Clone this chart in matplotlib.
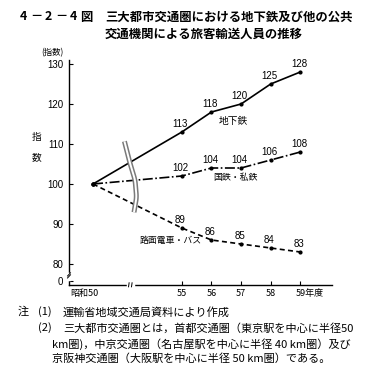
import matplotlib
matplotlib.use("Agg")
import matplotlib.pyplot as plt
import matplotlib.transforms as mtransforms
import numpy as np

plt.rcParams['font.family'] = ['Noto Sans CJK JP', 'DejaVu Sans']

years = ['昭和50', '55', '56', '57', '58', '59年度']
xpos = [0, 3, 4, 5, 6, 7]  # compressed axis (break between 50 and 55)
subway = [100, 113, 118, 120, 125, 128]
rail = [100, 102, 104, 104, 106, 108]
bus = [100, 89, 86, 85, 84, 83]
yticks = [80, 90, 100, 110, 120, 130]

NUMF = ['Liberation Sans Narrow', 'Liberation Sans', 'DejaVu Sans']

W, H = 365, 371
fig = plt.figure(figsize=(W / 100, H / 100), dpi=100)
fig.patch.set_facecolor('white')

L, R, T, B = 69, 332, 60, 285
ax = fig.add_axes([L / W, 1 - B / H, (R - L) / W, (B - T) / H])
ax.set_xlim(-0.81, 8.07)
ax.set_ylim(74.75, 131)

for s in ['top', 'right']:
    ax.spines[s].set_visible(False)
for s in ['left', 'bottom']:
    ax.spines[s].set_linewidth(1.0)

ax.plot(xpos, subway, color='black', lw=1.2, ls='-', marker='o', ms=2, zorder=3)
ax.plot(xpos, rail, color='black', lw=1.2, ls=(0, (6, 1.5, 1, 1.5)), marker='o', ms=2, zorder=3)
ax.plot(xpos, bus, color='black', lw=1.2, ls=(0, (3, 2)), marker='o', ms=2, zorder=3)

# decorative break curve (double line)
cx = np.array([1.05, 1.25, 1.42, 1.47, 1.38])
cy = np.array([111, 105.2, 101, 96.7, 92.7])
t = np.linspace(0, 1, len(cx))
tt = np.linspace(0, 1, 60)
px = np.interp(tt, t, cx)
py = np.interp(tt, t, cy)
k = np.ones(7) / 7
pxs = np.convolve(np.pad(px, 3, mode='edge'), k, mode='valid')
pys = np.convolve(np.pad(py, 3, mode='edge'), k, mode='valid')
ax.plot(pxs, pys, color='#7a7a7a', lw=3.6, solid_capstyle='butt', zorder=4)
ax.plot(pxs, pys, color='white', lw=1.4, solid_capstyle='butt', zorder=5)

# ticks
ax.set_yticks(yticks + [75.75])
ax.set_yticklabels([str(v) for v in yticks] + ['0'], family=NUMF)
ax.tick_params(axis='y', direction='in', length=3, width=0.8, labelsize=7, pad=4)
ax.set_xticks(xpos)
ax.set_xticklabels(years)
ax.tick_params(axis='x', direction='in', length=3, width=0.8, labelsize=6.5, pad=3)
labels = ax.get_xticklabels()
labels[0].set_transform(labels[0].get_transform() + mtransforms.ScaledTranslation(-9 / 100, 0, fig.dpi_scale_trans))
labels[-1].set_horizontalalignment('left')
labels[-1].set_transform(labels[-1].get_transform() + mtransforms.ScaledTranslation(-5 / 100, 0, fig.dpi_scale_trans))
ax.xaxis.get_major_ticks()[0].tick1line.set_visible(False)

# axis breaks
ax.plot([-0.81, -0.81], [76.3, 77.6], color='white', lw=2.5, zorder=6, clip_on=False)
ax.plot([-0.86, -0.76], [76.5, 77.3], color='black', lw=0.7, zorder=7, clip_on=False)
ax.plot([-0.86, -0.76], [77.0, 77.8], color='black', lw=0.7, zorder=7, clip_on=False)
ax.plot([1.18, 1.34], [74.75, 74.75], color='white', lw=2.5, zorder=6, clip_on=False)
ax.plot([1.2, 1.22], [74.3, 75.3], color='black', lw=0.7, zorder=7, clip_on=False)
ax.plot([1.3, 1.32], [74.3, 75.3], color='black', lw=0.7, zorder=7, clip_on=False)

# data labels
def lab(xs, ys, dy):
    for x, y in zip(xs, ys):
        ax.annotate(str(y), (x, y), xytext=(-1, dy), textcoords='offset points',
                    ha='center', va='bottom', fontsize=7, family=NUMF)

lab(xpos[1:], subway[1:], 2)
lab(xpos[1:], rail[1:], 2.5)
lab(xpos[1:], bus[1:], 2.5)

ax.text(4.73, 115.75, '地下鉄', ha='center', va='center', fontsize=7)
ax.text(4.8, 101.75, '国鉄・私鉄', ha='center', va='center', fontsize=6.4)
ax.text(2.64, 85.75, '路面電車・バス', ha='center', va='center', fontsize=6.4)

def ftext(x, y, s, **kw):
    fig.text(x / W, 1 - y / H, s, **kw)

# titles
tf = 8.9
for xx, ch in zip([20, 30, 45, 55, 70, 80], ['4', '－', '2', '－', '4', '図']):
    ftext(xx, 17, ch, fontsize=tf, fontweight='bold', va='center', ha='left')
ftext(105, 17, '三大都市交通圏における地下鉄及び他の公共', fontsize=tf, fontweight='bold', va='center', ha='left')
ftext(105, 34, '交通機関による旅客輸送人員の推移', fontsize=tf, fontweight='bold', va='center', ha='left')
ftext(52, 53, '(指数)', fontsize=6, va='center', ha='center')
ftext(37, 137, '指', fontsize=7, va='center', ha='center')
ftext(37, 157, '数', fontsize=7, va='center', ha='center')

# notes
nf = 8.0
ftext(18, 312, '注', fontsize=nf, va='center', ha='left')
ftext(38, 312, '(1)', fontsize=nf, va='center', ha='left')
ftext(63, 312, '運輸省地域交通局資料により作成', fontsize=nf, va='center', ha='left')
ftext(38, 328, '(2)', fontsize=nf, va='center', ha='left')
ftext(63, 328, '三大都市交通圏とは，首都交通圏（東京駅を中心に半径50', fontsize=nf, va='center', ha='left')
ftext(52, 344, 'km圏)，中京交通圏（名古屋駅を中心に半径 40 km圏）及び', fontsize=nf, va='center', ha='left')
ftext(52, 359, '京阪神交通圏（大阪駅を中心に半径 50 km圏）である。', fontsize=nf, va='center', ha='left')

fig.savefig('out.png', dpi=100, facecolor='white')
